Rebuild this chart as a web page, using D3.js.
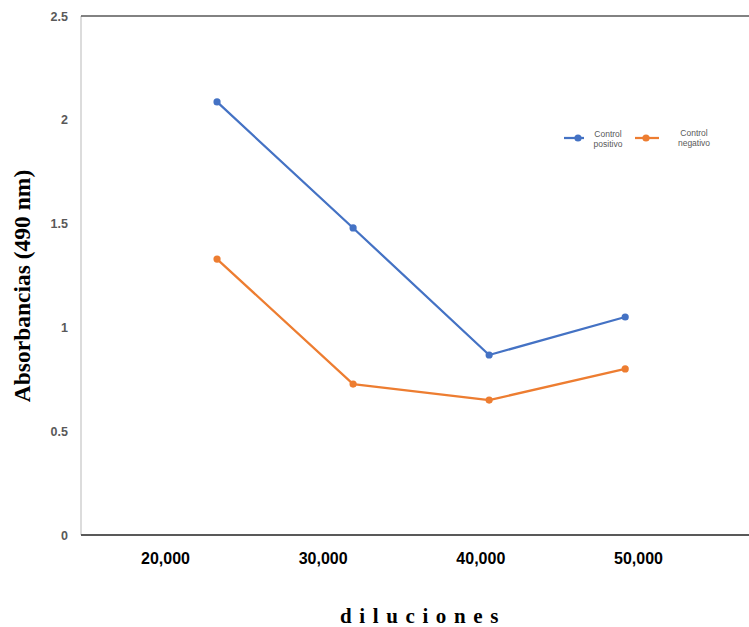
<!DOCTYPE html>
<html>
<head>
<meta charset="utf-8">
<script src="https://cdn.jsdelivr.net/npm/d3@7"></script>
<style>
  html, body { margin: 0; padding: 0; background: #fff; }
  svg { display: block; }
</style>
</head>
<body>
<svg id="chart" width="749" height="627"></svg>
<script>
// ---- data ----
const categories = ["20,000", "30,000", "40,000", "50,000"];
const seriesNames = ["Control positivo", "Control negativo"];
const positivo = [2.086, 1.479, 0.867, 1.050];
const negativo = [1.329, 0.727, 0.650, 0.800];
const yTicks = [0, 0.5, 1, 1.5, 2, 2.5];
const yTickLabels = ["0", "0.5", "1", "1.5", "2", "2.5"];

const colors = ["#4472C4", "#ED7D31"];
const svg = d3.select("#chart");

const plot = { left: 81, right: 749, top: 16, bottom: 535 };

// points sit at index 1..4 of a linear index scale
const x = d3.scaleLinear().domain([0, 4.91]).range([plot.left, plot.right]);
const y = d3.scaleLinear().domain([0, 2.5]).range([plot.bottom, plot.top]);
// tick labels are laid out on their own axis band
const xl = d3.scalePoint().domain(categories).range([165, 638]);

// left axis line (light)
svg.append("line")
  .attr("x1", plot.left).attr("x2", plot.left)
  .attr("y1", y(2.5)).attr("y2", y(0))
  .attr("stroke", "#d0d0d0").attr("stroke-width", 1.5);
// top line
svg.append("line")
  .attr("x1", plot.left).attr("x2", plot.right)
  .attr("y1", y(2.5)).attr("y2", y(2.5))
  .attr("stroke", "#595959").attr("stroke-width", 1.5);
// bottom line
svg.append("line")
  .attr("x1", plot.left).attr("x2", plot.right)
  .attr("y1", y(0)).attr("y2", y(0))
  .attr("stroke", "#595959").attr("stroke-width", 2);

// y tick labels
const yAxis = d3.axisLeft(y).tickValues(yTicks)
  .tickFormat((d, i) => yTickLabels[i]).tickSize(0).tickPadding(13);
const gy = svg.append("g").attr("transform", `translate(${plot.left},0)`).call(yAxis);
gy.select(".domain").remove();
gy.selectAll("text")
  .attr("fill", "#595959")
  .style("font-family", "'Liberation Sans', Arial, sans-serif")
  .style("font-size", "12.5px")
  .style("font-weight", "bold");

// x tick labels
const xAxis = d3.axisBottom(xl).tickSize(0).tickPadding(18);
const gx = svg.append("g").attr("transform", `translate(0,${plot.bottom})`).call(xAxis);
gx.select(".domain").remove();
gx.selectAll("text")
  .attr("fill", "#000")
  .style("font-family", "'Liberation Sans', Arial, sans-serif")
  .style("font-size", "16px")
  .style("font-weight", "bold");

// series
const series = [positivo, negativo];
const line = d3.line().x((d, i) => x(i + 1)).y(d => y(d));
series.forEach((vals, s) => {
  svg.append("path").datum(vals)
    .attr("d", line).attr("fill", "none")
    .attr("stroke", colors[s]).attr("stroke-width", 2.25)
    .attr("stroke-linejoin", "round");
  svg.selectAll(null).data(vals).enter().append("circle")
    .attr("cx", (d, i) => x(i + 1)).attr("cy", d => y(d))
    .attr("r", 3.6).attr("fill", colors[s]);
});

// legend
const legendItems = [
  { x0: 564, x1: 584, cx: 578, tx: 608, lines: ["Control", "positivo"] },
  { x0: 635, x1: 659, cx: 646, tx: 694, lines: ["Control", "negativo"] }
];
legendItems.forEach((it, s) => {
  const g = svg.append("g");
  g.append("line").attr("x1", it.x0).attr("x2", it.x1).attr("y1", 138).attr("y2", 138)
    .attr("stroke", colors[s]).attr("stroke-width", 2.25);
  g.append("circle").attr("cx", it.cx).attr("cy", 138).attr("r", 3.6).attr("fill", colors[s]);
  const t = g.append("text").attr("x", it.tx).attr("y", s === 0 ? 136.5 : 135.5)
    .attr("text-anchor", "middle")
    .attr("fill", "#595959")
    .style("font-family", "'Liberation Sans', Arial, sans-serif")
    .style("font-size", "8.5px");
  it.lines.forEach((l, i) => {
    t.append("tspan").attr("x", it.tx).attr("dy", i === 0 ? 0 : 10.5).text(l);
  });
});

// axis titles
svg.append("text")
  .attr("transform", "translate(30,286) rotate(-90)")
  .attr("text-anchor", "middle")
  .style("font-family", "'Liberation Serif', 'Times New Roman', serif")
  .style("font-size", "23.5px")
  .style("font-weight", "bold")
  .attr("fill", "#000")
  .text("Absorbancias (490 nm)");

svg.append("text")
  .attr("x", 423).attr("y", 623)
  .attr("text-anchor", "middle")
  .style("font-family", "'Liberation Serif', 'Times New Roman', serif")
  .style("font-size", "21px")
  .style("font-weight", "bold")
  .style("letter-spacing", "7.6px")
  .attr("fill", "#000")
  .text("diluciones");
</script>
</body>
</html>
